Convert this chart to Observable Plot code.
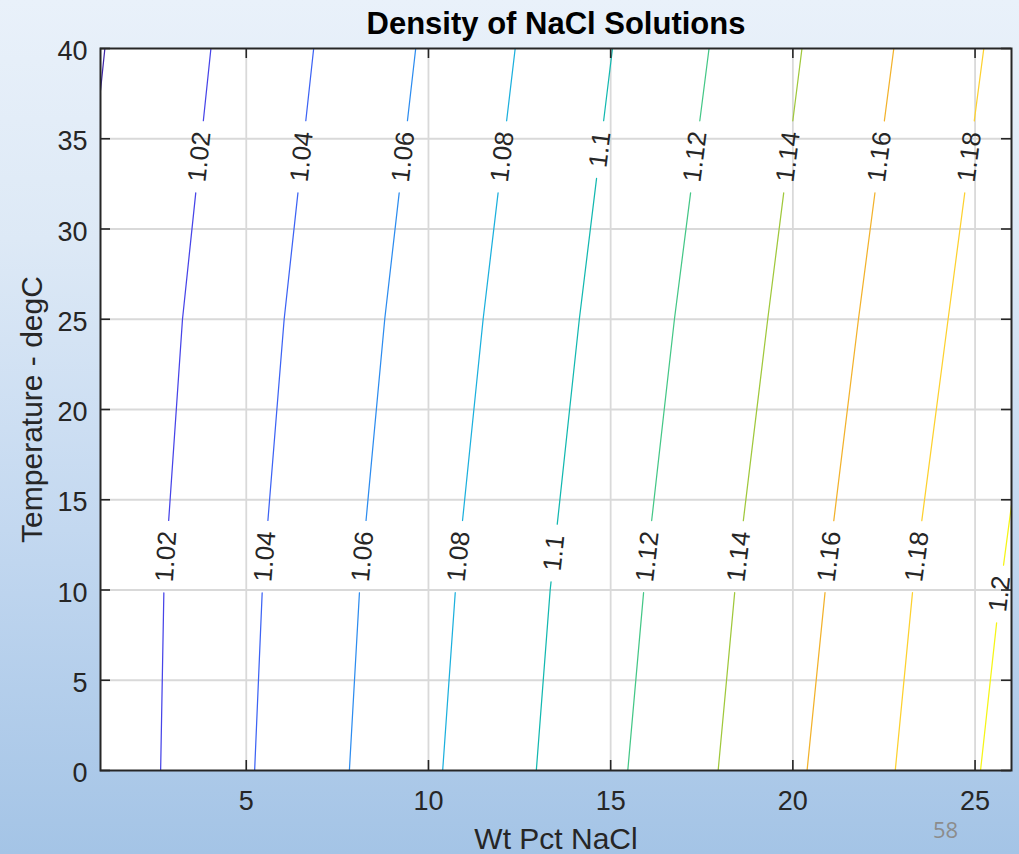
<!DOCTYPE html>
<html><head><meta charset="utf-8">
<script src="https://cdn.jsdelivr.net/npm/d3@7"></script>
<script src="https://cdn.jsdelivr.net/npm/@observablehq/plot@0.6"></script>
<style>
html,body{margin:0;padding:0;}
body{width:1019px;height:854px;overflow:hidden;position:relative;
background:linear-gradient(to bottom,#e9f1fa 0%,#dde9f6 28%,#c3d8f0 62%,#a4c4e6 100%);
font-family:"Liberation Sans",Arial,sans-serif;}
#chart{position:absolute;left:0;top:0;}
#page{position:absolute;left:933px;top:818px;font-size:22px;color:#8c8c8c;font-family:"Open Sans","Liberation Sans",sans-serif;line-height:1;}
</style></head><body>
<div id="chart"></div>
<div id="page">58</div>
<script>
// ---- data ----
const levels = [1.00, 1.02, 1.04, 1.06, 1.08, 1.10, 1.12, 1.14, 1.16, 1.18, 1.20];
const levelLabels = ["1", "1.02", "1.04", "1.06", "1.08", "1.1", "1.12", "1.14", "1.16", "1.18", "1.2"];
const levelColors = ["#3e26a8", "#4744e8", "#3d63f4", "#2d8cef", "#1cb0dd", "#13b8b0", "#45c787", "#a0c83c", "#f2b22c", "#fdd12f", "#f5f516"];
// contour crossings: Wt Pct NaCl at the given temperatures
const contourWt = [
  [1.00, 1.12],
  [2.65, 2.74, 3.25, 4.03],
  [5.23, 5.44, 6.04, 6.85],
  [7.83, 8.11, 8.80, 9.65],
  [10.39, 10.74, 11.50, 12.38],
  [12.96, 13.34, 14.14, 15.05],
  [15.47, 15.91, 16.75, 17.70],
  [17.95, 18.41, 19.31, 20.25],
  [20.39, 20.89, 21.80, 22.77],
  [22.81, 23.29, 24.26, 25.24],
  [25.15, 25.69, 26.00]
];
const contourT = [
  [37.67, 40],
  [0, 10, 25, 40],
  [0, 10, 25, 40],
  [0, 10, 25, 40],
  [0, 10, 25, 40],
  [0, 10, 25, 40],
  [0, 10, 25, 40],
  [0, 10, 25, 40],
  [0, 10, 25, 40],
  [0, 10, 25, 40],
  [0, 10, 14.7]
];
const labelUpperT = [null, 34, 34, 34, 34, 34.4, 34, 34, 34, 34, null];
const labelLowerT = [null, 11.85, 11.85, 11.85, 11.85, 12.05, 11.85, 11.85, 11.85, 11.85, 9.78];
const xTicks = [5, 10, 15, 20, 25];
const yTicks = [0, 5, 10, 15, 20, 25, 30, 35, 40];
const xDomain = [1, 26];
const yDomain = [0, 40];

// ---- layout ----
const W = 1019, H = 854, ML = 100, MR = 8, MT = 48, MB = 84;
const FW = W - ML - MR, FH = H - MT - MB;
const kx = FW / (xDomain[1] - xDomain[0]), ky = FH / (yDomain[1] - yDomain[0]);
const labelFont = 26;
const ink = "#262626";

function segIndex(ts, t) {
  for (let j = 0; j < ts.length - 1; j++) if (t >= ts[j] && t <= ts[j + 1]) return j;
  return ts.length - 2;
}
function wAt(ws, ts, t) {
  const j = segIndex(ts, t);
  const f = (t - ts[j]) / (ts[j + 1] - ts[j]);
  return ws[j] + f * (ws[j + 1] - ws[j]);
}
function textLen(s) {
  let n = 0;
  for (const c of s) n += (c === ".") ? 0.278 : 0.556;
  return n * labelFont;
}

const lineRows = [], labelRows = [];
let segId = 0;
levels.forEach((lev, i) => {
  const ws = contourWt[i], ts = contourT[i];
  const gaps = [];
  [labelUpperT[i], labelLowerT[i]].forEach(tc => {
    if (tc == null) return;
    const j = segIndex(ts, tc);
    const dx = (ws[j + 1] - ws[j]) * kx, dy = -(ts[j + 1] - ts[j]) * ky;
    const ang = Math.atan2(dy, dx);
    const halfPx = textLen(levelLabels[i]) / 2 + 11;
    const h = halfPx * Math.abs(Math.sin(ang)) / ky;
    gaps.push([tc - h, tc + h]);
    labelRows.push({w: wAt(ws, ts, tc), t: tc, text: levelLabels[i], rotate: ang * 180 / Math.PI});
  });
  gaps.sort((a, b) => a[0] - b[0]);
  const pieces = [];
  let a = ts[0];
  for (const [lo, hi] of gaps) { pieces.push([a, lo]); a = hi; }
  pieces.push([a, ts[ts.length - 1]]);
  for (const [p, q] of pieces) {
    if (q <= p) continue;
    const id = segId++;
    lineRows.push({w: wAt(ws, ts, p), t: p, seg: id, level: lev});
    ts.forEach((t, j) => { if (t > p && t < q) lineRows.push({w: ws[j], t, seg: id, level: lev}); });
    lineRows.push({w: wAt(ws, ts, q), t: q, seg: id, level: lev});
  }
});

const gridStyle = {stroke: "#d9d9d9", strokeOpacity: 1, strokeWidth: 1.8};
const tickStyle = {stroke: ink, strokeWidth: 1.6};

const chart = Plot.plot({
  width: W, height: H,
  marginLeft: ML, marginRight: MR, marginTop: MT, marginBottom: MB,
  style: {background: "transparent", color: ink, fontFamily: "'Liberation Sans', Arial, sans-serif"},
  x: {domain: xDomain},
  y: {domain: yDomain},
  color: {type: "ordinal", domain: levels, range: levelColors},
  marks: [
    Plot.frame({fill: "white"}),
    Plot.gridX(xTicks, gridStyle),
    Plot.gridY(yTicks.filter(t => t > yDomain[0] && t < yDomain[1]), gridStyle),
    Plot.line(lineRows, {x: "w", y: "t", z: "seg", stroke: "level", strokeWidth: 1.25, clip: true}),
    Plot.text(labelRows, {x: "w", y: "t", text: "text", rotate: "rotate", fontSize: labelFont, fill: ink,
      textAnchor: "middle", lineAnchor: "middle"}),
    Plot.frame({stroke: ink, strokeWidth: 2}),
    // inward tick marks on all four sides
    Plot.ruleX(xTicks, {...tickStyle, insetTop: FH - 10}),
    Plot.ruleX(xTicks, {...tickStyle, insetBottom: FH - 10}),
    Plot.ruleY(yTicks, {...tickStyle, insetRight: FW - 10}),
    Plot.ruleY(yTicks, {...tickStyle, insetLeft: FW - 10}),
    Plot.axisX({ticks: xTicks, tickSize: 0, tickPadding: 20, fontSize: 27, label: null, fill: ink}),
    Plot.axisY({ticks: yTicks, tickSize: 0, tickPadding: 13, fontSize: 27, label: null, fill: ink, dy: 3}),
    Plot.text(["Density of NaCl Solutions"], {frameAnchor: "top", lineAnchor: "bottom", dy: -15,
      fontSize: 31, fontWeight: "bold", fill: "#000"}),
    Plot.text(["Wt Pct NaCl"], {frameAnchor: "bottom", lineAnchor: "bottom", dy: 78, fontSize: 30, fill: ink}),
    Plot.text(["Temperature - degC"], {frameAnchor: "left", textAnchor: "middle", lineAnchor: "bottom",
      rotate: -90, dx: -59, fontSize: 30, fill: ink})
  ]
});
document.getElementById("chart").appendChild(chart);
</script>
</body></html>
